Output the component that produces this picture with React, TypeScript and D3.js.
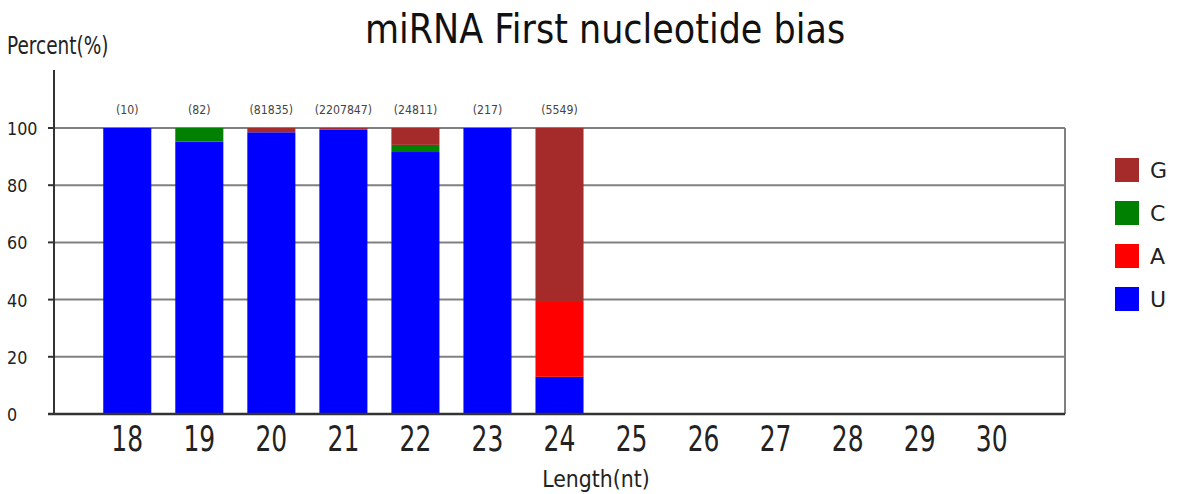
import React from 'react';
import { scaleBand, scaleLinear, stack } from 'd3';

// data
const lengths = ['18', '19', '20', '21', '22', '23', '24', '25', '26', '27', '28', '29', '30'];
const counts = ['(10)', '(82)', '(81835)', '(2207847)', '(24811)', '(217)', '(5549)'];
const U = [100, 95.2, 98.5, 99.5, 91.6, 100, 13];
const A = [0, 0, 0, 0, 0, 0, 26.5];
const C = [0, 4.8, 0, 0, 2.5, 0, 0];
const G = [0, 0, 1.5, 0.5, 5.9, 0, 60.5];
const bases = ['U', 'A', 'C', 'G'];
const yTicks = [0, 20, 40, 60, 80, 100];

const colors: Record<string, string> = { U: '#0000ff', A: '#ff0000', C: '#008000', G: '#a52a2a' };

const rows = counts.map((c, i) => ({ len: lengths[i], U: U[i], A: A[i], C: C[i], G: G[i] }));

const font = '"DejaVu Sans", sans-serif';

// the reference text looks stretched vertically, so scale y a bit
const T = ({ x, y, k = 1, size, anchor = 'start', fill = '#222', children }: any) => (
  <text transform={`translate(${x},${y}) scale(1,${k})`} fontSize={size} textAnchor={anchor} fill={fill}>
    {children}
  </text>
);

export default function App() {
  const width = 1200;
  const height = 494;
  const left = 54;
  const right = 1065;
  const top = 128;
  const bottom = 414;

  const x = scaleBand().domain(lengths).range([91, 1028]).paddingInner(0.333).paddingOuter(0.17);
  const y = scaleLinear().domain([0, 100]).range([bottom, top]);
  const series = stack<any>().keys(bases)(rows);

  return (
    <svg width={width} height={height} style={{ position: 'absolute', left: 0, top: 0 }} fontFamily={font}>
      <rect width={width} height={height} fill="#fff" />
      <T x={605} y={43} k={1.15} size={35} anchor="middle" fill="#111">miRNA First nucleotide bias</T>
      <T x={7} y={54} k={1.35} size={18.5}>Percent(%)</T>

      {/* grid */}
      {yTicks.filter((t) => t > 0).map((t) => (
        <line key={t} x1={left} x2={right} y1={y(t)} y2={y(t)} stroke="#808080" strokeWidth={2} />
      ))}
      <line x1={right} x2={right} y1={top} y2={bottom} stroke="#808080" strokeWidth={2} />

      {/* bars */}
      {series.map((s) => (
        <g key={s.key} fill={colors[s.key]}>
          {s.map((d, i) =>
            d[1] - d[0] > 0 ? (
              <rect
                key={i}
                x={x(lengths[i])}
                width={x.bandwidth()}
                y={y(d[1])}
                height={y(d[0]) - y(d[1])}
              />
            ) : null,
          )}
        </g>
      ))}

      {/* counts */}
      {counts.map((c, i) => (
        <T key={c} x={(x(lengths[i]) ?? 0) + x.bandwidth() / 2} y={114} k={1.1} size={11} anchor="middle" fill="#444">
          {c}
        </T>
      ))}

      {/* axes */}
      <line x1={left} x2={left} y1={70} y2={bottom + 1} stroke="#333" strokeWidth={2} />
      <line x1={left - 6} x2={right} y1={bottom} y2={bottom} stroke="#333" strokeWidth={2.5} />
      {yTicks.map((t) => (
        <g key={t}>
          <line x1={left - 6} x2={left} y1={y(t)} y2={y(t)} stroke="#333" strokeWidth={2} />
          <T x={7} y={y(t) + 7} k={1.15} size={16}>{t}</T>
        </g>
      ))}
      {lengths.map((l) => (
        <T key={l} x={(x(l) ?? 0) + x.bandwidth() / 2} y={451} k={1.4} size={25} anchor="middle">
          {l}
        </T>
      ))}
      <T x={596} y={487} k={1.12} size={20.5} anchor="middle">Length(nt)</T>

      {/* legend */}
      {[...bases].reverse().map((b, i) => (
        <g key={b}>
          <rect x={1115} y={158 + i * 43} width={24} height={24} fill={colors[b]} />
          <T x={1150} y={178 + i * 43} size={22}>{b}</T>
        </g>
      ))}
    </svg>
  );
}
